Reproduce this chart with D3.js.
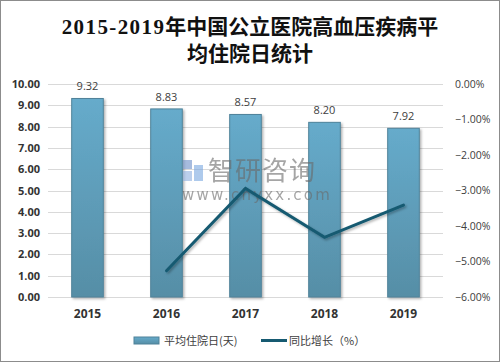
<!DOCTYPE html>
<html>
<head>
<meta charset="utf-8">
<script src="https://cdn.jsdelivr.net/npm/d3@7"></script>
<style>
  body { margin: 0; background: #fff; }
  svg { display: block; }
</style>
</head>
<body>
<svg id="chart"></svg>
<script>
const years = ["2015", "2016", "2017", "2018", "2019"];
const avgDays = [9.32, 8.83, 8.57, 8.20, 7.92];
const growth = [null, -5.26, -2.94, -4.32, -3.41];
const leftTicks = [0, 1, 2, 3, 4, 5, 6, 7, 8, 9, 10];
const rightTicks = [0, -1, -2, -3, -4, -5, -6];

const width = 500, height = 363;
const plotTop = 84, plotBottom = 297, plotLeft = 48, plotRight = 443;

const svg = d3.select("#chart")
    .attr("width", width)
    .attr("height", height);

// outer frame
svg.append("rect")
    .attr("x", 0.5).attr("y", 0.5)
    .attr("width", width - 1).attr("height", height - 2)
    .attr("fill", "#fff")
    .attr("stroke", "#8c8c8c");

const defs = svg.append("defs");
const grad = defs.append("linearGradient")
    .attr("id", "barGrad")
    .attr("x1", 0).attr("y1", 0).attr("x2", 0).attr("y2", 1);
grad.append("stop").attr("offset", "0%").attr("stop-color", "#66abcb");
grad.append("stop").attr("offset", "100%").attr("stop-color", "#568ea6");

const shadow = defs.append("filter").attr("id", "shadow")
    .attr("x", "-20%").attr("y", "-20%").attr("width", "150%").attr("height", "150%");
shadow.append("feDropShadow")
    .attr("dx", 1.5).attr("dy", 1.5).attr("stdDeviation", 1.2)
    .attr("flood-color", "#000").attr("flood-opacity", 0.3);

// title
const title1 = svg.append("text")
    .attr("x", 250).attr("y", 34)
    .attr("text-anchor", "middle")
    .style("font-family", "'Liberation Serif', 'Noto Sans CJK SC', serif")
    .style("font-size", "21px")
    .style("font-weight", "bold")
    .attr("fill", "#111");
title1.append("tspan").style("letter-spacing", "1.4px").text("2015-2019");
title1.append("tspan").text("年中国公立医院高血压疾病平");
svg.append("text")
    .attr("x", 250).attr("y", 61)
    .attr("text-anchor", "middle")
    .style("font-family", "'Liberation Serif', 'Noto Sans CJK SC', serif")
    .style("font-size", "21px")
    .style("font-weight", "bold")
    .attr("fill", "#111")
    .text("均住院日统计");

let x = d3.scaleBand()
    .domain(years)
    .range([plotLeft, plotRight])
    .paddingInner(0.6)
    .paddingOuter(0.3);

let yLeft = d3.scaleLinear().domain([0, 10]).range([plotBottom, plotTop]);
let yRight = d3.scaleLinear().domain([-6, 0]).range([plotBottom, plotTop]);

// gridlines
svg.append("g")
  .selectAll("line")
  .data(leftTicks)
  .enter()
  .append("line")
    .attr("x1", plotLeft).attr("x2", plotRight)
    .attr("y1", d => Math.round(yLeft(d)) + 0.5)
    .attr("y2", d => Math.round(yLeft(d)) + 0.5)
    .attr("stroke", "#d9d9d9");

// left axis
let yAxisL = d3.axisLeft(yLeft).tickValues(leftTicks).tickFormat(d3.format(".2f")).tickSize(0).tickPadding(8);
svg.append("g")
    .attr("transform", `translate(${plotLeft}, 0)`)
    .call(yAxisL)
    .call(g => g.select(".domain").remove())
    .selectAll("text")
    .style("font-family", "'Open Sans', 'Noto Sans', sans-serif")
    .style("font-size", "11px")
    .style("font-weight", "bold")
    .attr("fill", "#333");

// right axis
let yAxisR = d3.axisRight(yRight).tickValues(rightTicks).tickFormat(d => d3.format(".2f")(d) + "%").tickSize(0).tickPadding(12);
svg.append("g")
    .attr("transform", `translate(${plotRight}, 0)`)
    .call(yAxisR)
    .call(g => g.select(".domain").remove())
    .selectAll("text")
    .style("font-family", "'Open Sans', 'Noto Sans', sans-serif")
    .style("font-size", "10.5px")
    .attr("fill", "#404040");

// x axis labels
let xAxis = d3.axisBottom(x).tickSize(0).tickPadding(12);
svg.append("g")
    .attr("transform", `translate(0, ${plotBottom})`)
    .call(xAxis)
    .call(g => g.select(".domain").remove())
    .selectAll("text")
    .style("font-family", "'Open Sans', 'Noto Sans', sans-serif")
    .style("font-size", "12px")
    .style("font-weight", "bold")
    .attr("fill", "#333");

// bars
svg.append("g")
  .selectAll("rect")
  .data(avgDays)
  .enter()
  .append("rect")
    .attr("x", (d, i) => x(years[i]))
    .attr("y", d => yLeft(d))
    .attr("width", x.bandwidth())
    .attr("height", d => plotBottom - yLeft(d))
    .attr("fill", "url(#barGrad)")
    .attr("stroke", "#4f8299")
    .attr("stroke-width", 1)
    .attr("filter", "url(#shadow)");

// bar labels
svg.append("g")
  .selectAll("text")
  .data(avgDays)
  .enter()
  .append("text")
    .attr("x", (d, i) => x(years[i]) + x.bandwidth() / 2)
    .attr("y", d => yLeft(d) - 8)
    .attr("text-anchor", "middle")
    .style("font-family", "'Open Sans', 'Noto Sans', sans-serif")
    .style("font-size", "11px")
    .attr("fill", "#404040")
    .text(d => d3.format(".2f")(d));

// watermark
const wm = svg.append("g").attr("opacity", 0.6);
wm.append("text")
    .attr("x", 208).attr("y", 180)
    .style("font-family", "'Noto Sans CJK SC', sans-serif")
    .style("font-size", "26px")
    .style("letter-spacing", "1px")
    .attr("fill", "#6a6a6a")
    .text("智研咨询");
wm.append("text")
    .attr("x", 182).attr("y", 200)
    .style("font-family", "'DejaVu Sans', sans-serif")
    .style("font-size", "15px")
    .style("letter-spacing", "2.2px")
    .attr("fill", "#6a6a6a")
    .text("www.chyxx.com");
wm.append("rect").attr("x", 183).attr("y", 160).attr("width", 9).attr("height", 9).attr("fill", "#6c8fc9");
wm.append("rect").attr("x", 183).attr("y", 171).attr("width", 9).attr("height", 10).attr("fill", "#8fb0e0");
wm.append("rect").attr("x", 194).attr("y", 165).attr("width", 9).attr("height", 16).attr("fill", "#7aa7e0");

// growth line
const lineData = growth.map((g, i) => ({year: years[i], value: g})).filter(d => d.value !== null);
let line = d3.line()
    .x(d => x(d.year) + x.bandwidth() / 2)
    .y(d => yRight(d.value));
svg.append("path")
    .datum(lineData)
    .attr("d", line)
    .attr("fill", "none")
    .attr("stroke", "#165a71")
    .attr("stroke-width", 3)
    .attr("stroke-linejoin", "miter")
    .attr("stroke-linecap", "round")
    .attr("filter", "url(#shadow)");

// legend
const legend = svg.append("g");
legend.append("rect")
    .attr("x", 134).attr("y", 337)
    .attr("width", 25).attr("height", 7)
    .attr("fill", "url(#barGrad)")
    .attr("stroke", "#4f8299");
legend.append("text")
    .attr("x", 164).attr("y", 345)
    .style("font-family", "'Noto Sans CJK SC', sans-serif")
    .style("font-size", "11px")
    .attr("fill", "#404040")
    .text("平均住院日(天)");
legend.append("line")
    .attr("x1", 261).attr("x2", 287)
    .attr("y1", 340.5).attr("y2", 340.5)
    .attr("stroke", "#165a71")
    .attr("stroke-width", 3);
legend.append("text")
    .attr("x", 289).attr("y", 345)
    .style("font-family", "'Noto Sans CJK SC', sans-serif")
    .style("font-size", "11px")
    .attr("fill", "#404040")
    .text("同比增长（%）");
</script>
</body>
</html>
